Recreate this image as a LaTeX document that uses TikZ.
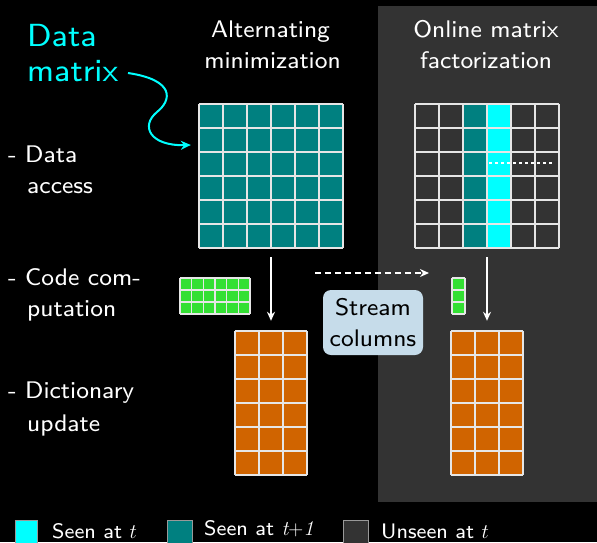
\documentclass[tikz,border=0pt]{standalone}
\usepackage{fontspec}
\setsansfont{lmsans8-regular}[Extension=.otf, ItalicFont=lmsans8-oblique, BoldFont=lmsans10-bold]
\usetikzlibrary{arrows.meta}
\definecolor{tealc}{HTML}{008080}
\definecolor{cyanc}{HTML}{00FFFF}
\definecolor{panelc}{HTML}{333333}
\definecolor{greenc}{HTML}{33E033}
\definecolor{orangec}{HTML}{D06400}
\definecolor{gridc}{HTML}{E6E6E6}
\definecolor{boxc}{HTML}{C6DCEA}
\newcommand{\mymgrid}[6]{%
 \foreach \i in {0,...,#3} {\draw[gridline] ({#1+\i*#5},#2) -- ({#1+\i*#5},{#2+#4*#6});}
 \foreach \j in {0,...,#4} {\draw[gridline] (#1,{#2+\j*#6}) -- ({#1+#3*#5},{#2+\j*#6});}
}
\begin{document}
\begin{tikzpicture}[x=1pt,y=-1pt,
  gridline/.style={draw=gridc, line width=1.2pt},
  ttl/.style={text=white, font=\sffamily\fontsize{24}{27}\selectfont, anchor=base, inner sep=0},
  lbl/.style={text=white, font=\sffamily\fontsize{24}{31}\selectfont, anchor=base west, inner sep=0},
  leg/.style={text=white, font=\sffamily\fontsize{21}{25}\selectfont, anchor=base west, inner sep=0},
  mat/.style={inner sep=0, minimum width=#1},
  arr/.style={draw=white, line width=1.5pt, -{Stealth[length=9pt,width=8pt]}},
  swatch/.style={draw=gray!80, line width=0.8pt}]
\useasboundingbox (0,0) rectangle (597,542);
\clip (0,0) rectangle (597,542);
\fill[black] (0,0) rectangle (597,542);
\fill[panelc] (378,6) rectangle (597,502);

% titles
\node[ttl] (t1a) at (270.5,37) {Alternating};
\node[ttl] (t1b) at (272.5,68) {minimization};
\node[ttl] (t2a) at (486,37) {Online matrix};
\node[ttl] (t2b) at (486,68) {factorization};

% data matrix label
\node[text=cyanc, font=\sffamily\fontsize{32}{34}\selectfont, anchor=base west, inner sep=0] (dm1) at (27,46) {Data};
\node[text=cyanc, font=\sffamily\fontsize{32}{34}\selectfont, anchor=base west, inner sep=0] (dm2) at (27,81) {matrix};

% left labels
\node[lbl] (l1a) at (8,162) {- Data};
\node[lbl] (l1b) at (27,193) {access};
\node[lbl] (l2a) at (8,285) {- Code com-};
\node[lbl] (l2b) at (27,316) {putation};
\node[lbl] (l3a) at (8,398) {- Dictionary};
\node[lbl] (l3b) at (27,431) {update};

% left data matrix
\node[mat=144pt, minimum height=144pt] (A) at (271,176) {};
\fill[tealc] (199,104) rectangle (343,248);
\mymgrid{199}{104}{6}{6}{24}{24}

% right data matrix
\node[mat=144pt, minimum height=144pt] (B) at (487,176) {};
\fill[tealc] (463,104) rectangle (487,248);
\fill[cyanc] (487,104) rectangle (511,248);
\mymgrid{415}{104}{6}{6}{24}{24}
\coordinate (d1) at (489,163);
\coordinate (d2) at (553,163);
\draw[white, line width=1.2pt, dash pattern=on 3pt off 3pt] (d1) -- (d2);

% code matrices
\node[mat=70pt, minimum height=36pt] (CL) at (215,296) {};
\fill[greenc] (180,278) rectangle (250,314);
\mymgrid{180}{278}{6}{3}{11.667}{12}
\node[mat=13pt, minimum height=36pt] (CR) at (458.5,296) {};
\fill[greenc] (452,278) rectangle (465,314);
\mymgrid{452}{278}{1}{3}{13}{12}

% dictionaries
\node[mat=72pt, minimum height=144pt] (DL) at (271,403) {};
\fill[orangec] (235,331) rectangle (307,475);
\mymgrid{235}{331}{3}{6}{24}{24}
\node[mat=72pt, minimum height=144pt] (DR) at (487,403) {};
\fill[orangec] (451,331) rectangle (523,475);
\mymgrid{451}{331}{3}{6}{24}{24}

% arrows
\draw[arr] ([yshift=-9pt]A.south) -- ([yshift=10pt]DL.north);
\draw[arr] ([yshift=-9pt]B.south) -- ([yshift=10pt]DR.north);
\coordinate (s1) at (315,273);
\coordinate (s2) at (429,273);
\draw[arr, dash pattern=on 6pt off 4pt] (s1) -- (s2);

% stream columns box
\node[fill=boxc, rounded corners=8pt, minimum width=100pt, minimum height=65pt, inner sep=0, align=center, text=black, font=\sffamily\fontsize{24}{31}\selectfont] (sc) at (373,322.5) {Stream\\columns};

% curved cyan arrow
\draw[cyanc, line width=2pt, -{Stealth[length=10pt,width=9pt]}] (128,73) .. controls (175,80) and (172,100) .. (157,112) .. controls (140,126) and (150,146) .. ([xshift=-8pt]A.west|-0,145);

% legend
\draw[swatch, fill=cyanc] (15,520) rectangle (37,550);
\node[leg] (lg1) at (52,538) {Seen at $t$};
\draw[swatch, fill=tealc] (167,520) rectangle (192,550);
\node[leg] (lg2) at (204,535) {Seen at $\mathit{t{+}1}$};
\draw[swatch, fill=panelc] (343,520) rectangle (368,550);
\node[leg] (lg3) at (381,538) {Unseen at $t$};
\end{tikzpicture}
\end{document}
